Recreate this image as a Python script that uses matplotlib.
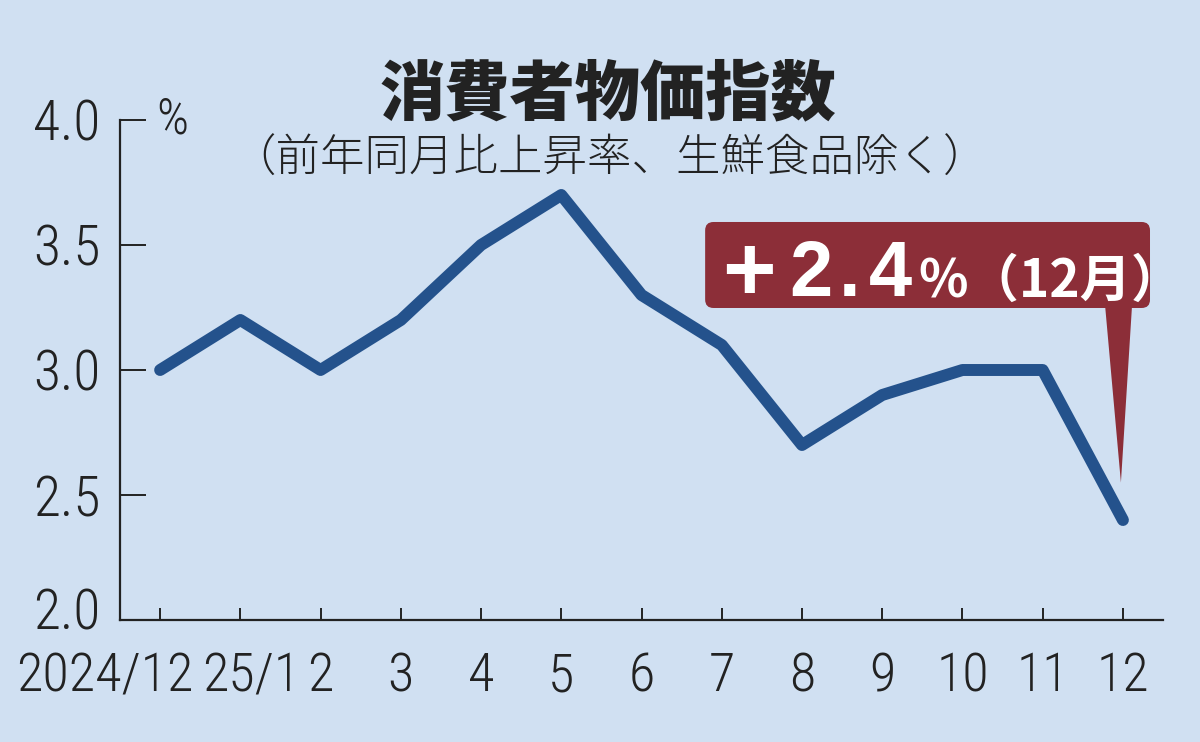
import numpy as np
import matplotlib.pyplot as plt
from matplotlib.patches import FancyBboxPatch, Polygon
from matplotlib.transforms import ScaledTranslation

# data: CPI (ex fresh food), y/y %
months = ["2024/12", "25/1", "2", "3", "4", "5", "6", "7", "8", "9", "10", "11", "12"]
cpi = [3.0, 3.2, 3.0, 3.2, 3.5, 3.7, 3.3, 3.1, 2.7, 2.9, 3.0, 3.0, 2.4]
yticks = [2.0, 2.5, 3.0, 3.5, 4.0]
ytick_labels = ["2.0", "2.5", "3.0", "3.5", "4.0"]

bg = "#d0e0f2"
line_c = "#24528c"
red = "#8c2e38"
ink = "#222222"
num_font = ["Roboto Condensed", "Archivo Narrow", "PT Sans Narrow", "Liberation Sans Narrow",
            "Liberation Sans", "DejaVu Sans"]
jp_font = ["Noto Sans CJK JP", "DejaVu Sans"]

fig = plt.figure(figsize=(12, 7.42), dpi=100, facecolor=bg)
ax = fig.add_axes([0.1, 0.1644, 0.8692, 0.6739])
ax.set_facecolor(bg)

x = np.arange(len(months))
ax.plot(x, cpi, color=line_c, lw=8.6, solid_joinstyle="round",
        solid_capstyle="round", clip_on=False, zorder=3)

ax.set_xlim(-0.5, 12.5)
ax.set_ylim(2.0, 4.0)
for s in ["top", "right"]:
    ax.spines[s].set_visible(False)
for s in ["left", "bottom"]:
    ax.spines[s].set_linewidth(1.6)
    ax.spines[s].set_color(ink)

ax.set_yticks(yticks)
ax.set_yticklabels(ytick_labels, fontfamily=num_font, fontsize=40, fontweight="light", color=ink)
ax.tick_params(axis="y", direction="in", length=19, width=1.4, pad=14, color=ink)
ax.set_xticks(x)
ax.set_xticklabels(months, fontfamily=num_font, fontsize=39, fontweight="light", color=ink)
ax.tick_params(axis="x", direction="in", length=9, width=1.4, pad=22, color=ink)

# lift the bottom y label a bit, nudge first two month labels like the original
ylabs = ax.get_yticklabels()
ylabs[0].set_transform(ylabs[0].get_transform() + ScaledTranslation(0, 0.12, fig.dpi_scale_trans))
labs = ax.get_xticklabels()
labs[0].set_transform(labs[0].get_transform() + ScaledTranslation(-0.55, 0, fig.dpi_scale_trans))
labs[1].set_transform(labs[1].get_transform() + ScaledTranslation(0.11, 0, fig.dpi_scale_trans))

ax.text(0.035, 1.0, "%", transform=ax.transAxes, fontfamily=num_font, fontsize=36,
        fontweight="light", color=ink, va="center", ha="left")

fig.text(0.507, 0.872, "消費者物価指数", fontfamily=jp_font, fontsize=47,
         fontweight="black", color=ink, ha="center", va="center")
fig.text(0.508, 0.785, "（前年同月比上昇率、生鮮食品除く）", fontfamily=jp_font,
         fontsize=32, fontweight="light", color=ink, ha="center", va="center")

# callout for latest value
box = FancyBboxPatch((0.561, 0.624), 0.4265, 0.172, boxstyle="round,pad=0,rounding_size=0.008",
                     mutation_aspect=2.086, transform=ax.transAxes, facecolor=red,
                     edgecolor="none", zorder=4, clip_on=False)
ax.add_patch(box)
tip = (x[-1] - 0.025, cpi[-1] + 0.15)
tri = Polygon([(11.777, 3.26), (12.114, 3.26), tip], closed=True, facecolor=red,
              edgecolor="none", zorder=4, clip_on=False)
ax.add_patch(tri)
# big number, letter-spaced like the original
big = "+2.4"
big_x = [0.603, 0.662, 0.699, 0.739]
big_y = [0.640, 0.648, 0.648, 0.648]
big_size = [66, 56, 56, 56]
for ch, bx, by, bs in zip(big, big_x, big_y, big_size):
    ax.text(bx, by, ch, transform=ax.transAxes, fontfamily=["Liberation Sans", "DejaVu Sans"],
            fontsize=bs, fontweight="bold", color="white", ha="center", va="baseline", zorder=5)
ax.text(0.765, 0.646, "%（12月）", transform=ax.transAxes, fontfamily=jp_font,
        fontsize=37, fontweight="bold", color="white", ha="left", va="baseline", zorder=5)

fig.savefig("out.png", dpi=100, facecolor=bg)
